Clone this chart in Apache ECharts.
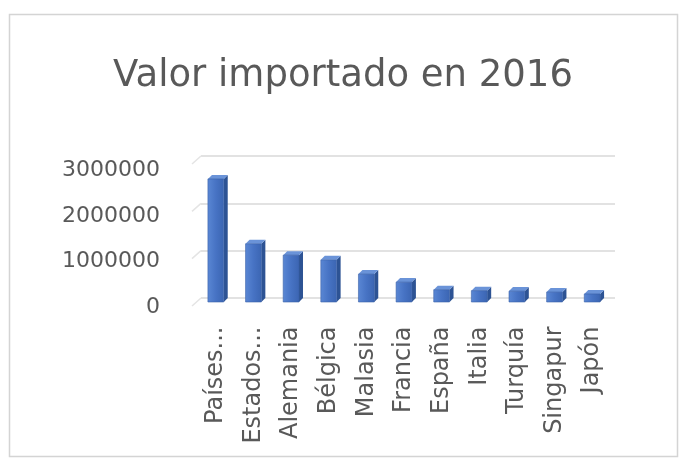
<!DOCTYPE html>
<html>
<head>
<meta charset="utf-8">
<script src="https://cdn.jsdelivr.net/npm/echarts@6/dist/echarts.min.js"></script>
<style>
  html, body { margin: 0; padding: 0; background: #ffffff; }
  #chart { width: 686px; height: 462px; }
</style>
</head>
<body>
<div id="chart"></div>
<script>
// Import values for 2016, by country of origin
const countries = ["Países Bajos", "Estados Unidos", "Alemania", "Bélgica", "Malasia",
                   "Francia", "España", "Italia", "Turquía", "Singapur", "Japón"];
const importValues = [2600000, 1230000, 990000, 890000, 590000, 420000,
                      260000, 240000, 230000, 210000, 170000];
const valueTicks = [0, 1000000, 2000000, 3000000];
const chartTitle = "Valor importado en 2016";

const FONT = "DejaVu Sans";
const TEXT = "#595959";
const GRID_LINE = "#d9d9d9";
const DEPTH_X = 4, DEPTH_Y = 4;

// 3D-style box: back face sits on the wall scale, front face is shifted down-left
function renderBox(params, api) {
  const idx = api.value(0);
  const val = api.value(1);
  const top = api.coord([idx, val]);
  const base = api.coord([idx, 0]);
  const bw = api.size([1, 0])[0] * 0.42;
  const xl = top[0] - bw / 2, xr = top[0] + bw / 2;
  const fl = xl - DEPTH_X, fr = xr - DEPTH_X;
  const ft = top[1] + DEPTH_Y, fb = base[1] + DEPTH_Y;
  return {
    type: "group",
    children: [
      { // side face
        type: "polygon",
        shape: { points: [[fr, ft], [xr, top[1]], [xr, base[1]], [fr, fb]] },
        style: { fill: "#2d5394" }
      },
      { // top face
        type: "polygon",
        shape: { points: [[fl, ft], [xl, top[1]], [xr, top[1]], [fr, ft]] },
        style: { fill: "#6a93d8" }
      },
      { // front face
        type: "rect",
        shape: { x: fl, y: ft, width: bw, height: fb - ft },
        style: {
          fill: new echarts.graphic.LinearGradient(0, 0, 1, 0, [
            { offset: 0, color: "#5a87d4" },
            { offset: 0.5, color: "#4773c4" },
            { offset: 1, color: "#3b65b2" }
          ]),
          stroke: "#3a62a8",
          lineWidth: 0.6
        }
      }
    ]
  };
}

// short slanted wall edges to the left of each gridline
function renderWallEdge(params, api) {
  const y = api.coord([0, api.value(0)])[1];
  const x0 = params.coordSys.x;
  return {
    type: "line",
    shape: { x1: x0, y1: y, x2: x0 - 9, y2: y + 8 },
    style: { stroke: "#e4e4e4", lineWidth: 1.5 }
  };
}

const chart = echarts.init(document.getElementById("chart"), null, { renderer: "canvas" });

chart.setOption({
  backgroundColor: "#ffffff",
  animation: false,
  title: {
    text: chartTitle,
    left: "center",
    top: 53,
    textStyle: { fontFamily: FONT, fontSize: 37, fontWeight: "normal", color: TEXT }
  },
  graphic: [{
    type: "rect",
    shape: { x: 9.5, y: 14.5, width: 668, height: 442 },
    style: { fill: "none", stroke: "#d4d4d4", lineWidth: 1.5 },
    silent: true
  }],
  grid: [
    // back wall with gridlines and bars
    { left: 201, right: 71, top: 156, bottom: 164 },
    // front plane carrying the axis labels
    { left: 197, right: 75, top: 170, bottom: 154.5 }
  ],
  xAxis: [
    {
      type: "category", gridIndex: 0, data: countries,
      axisLine: { show: false }, axisTick: { show: false }, axisLabel: { show: false }
    },
    {
      type: "category", gridIndex: 1, data: countries,
      axisLine: { show: false }, axisTick: { show: false },
      axisLabel: {
        rotate: 90, margin: 19, interval: 0,
        fontFamily: FONT, fontSize: 24, color: TEXT,
        formatter: v => v.includes(" ") ? v.split(" ")[0] + "..." : v
      }
    }
  ],
  yAxis: [
    {
      type: "value", gridIndex: 0, min: 0, max: 3000000, interval: 1000000,
      axisLine: { show: false }, axisTick: { show: false }, axisLabel: { show: false },
      splitLine: { lineStyle: { color: GRID_LINE, width: 1.5 } }
    },
    {
      type: "value", gridIndex: 1, min: 0, max: 3000000, interval: 1000000,
      axisLine: { show: false }, axisTick: { show: false }, splitLine: { show: false },
      axisLabel: {
        margin: 37, fontFamily: FONT, fontSize: 22, color: TEXT,
        formatter: v => String(v)
      }
    }
  ],
  series: [
    {
      type: "custom", xAxisIndex: 0, yAxisIndex: 0,
      renderItem: renderWallEdge,
      data: valueTicks.map(v => [v]),
      encode: { y: 0 },
      silent: true, z: 1
    },
    {
      type: "custom", xAxisIndex: 0, yAxisIndex: 0,
      renderItem: renderBox,
      data: importValues.map((v, i) => [i, v]),
      encode: { x: 0, y: 1 },
      z: 3
    }
  ]
});
</script>
</body>
</html>
